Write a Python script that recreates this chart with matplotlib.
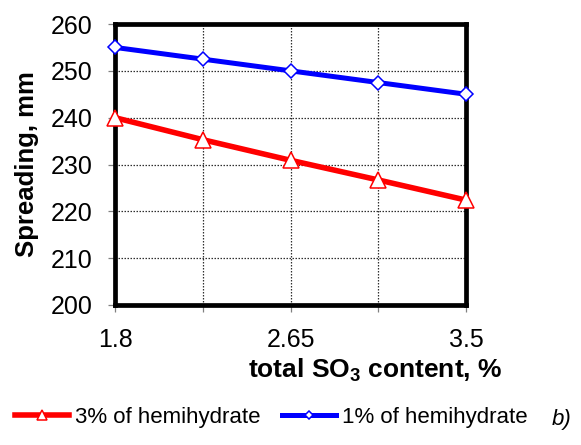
import matplotlib
matplotlib.use("Agg")
import matplotlib.pyplot as plt

plt.rcParams['font.family'] = ['Liberation Sans', 'DejaVu Sans']
plt.rcParams['mathtext.default'] = 'regular'

# Total SO3 content, % (ticks at every measured point, labels on three)
so3 = [1.8, 2.225, 2.65, 3.075, 3.5]
x_tick_labels = ['1.8', '', '2.65', '', '3.5']

# Spreading, mm
spread_3pct = [240, 235.3, 230.9, 226.7, 222.4]
spread_1pct = [255, 252.5, 250, 247.5, 245]

y_ticks = [200, 210, 220, 230, 240, 250, 260]

fig = plt.figure(figsize=(5.81, 4.45), dpi=100)
ax = fig.add_axes([115 / 581, 140 / 445, 351 / 581, 281 / 445])

ax.plot(so3, spread_3pct, color='#ff0000', lw=4.0, marker='^', ms=11,
        mfc='white', mec='#ff0000', mew=1.1, clip_on=False, zorder=5,
        label='3% of hemihydrate')
ax.plot(so3, spread_1pct, color='#0000ff', lw=3.6, marker='D', ms=7,
        mfc='white', mec='#0000ff', mew=1.1, clip_on=False, zorder=5,
        label='1% of hemihydrate')

ax.set_xlim(so3[0], so3[-1])
ax.set_ylim(y_ticks[0], y_ticks[-1])
ax.set_xticks(so3)
ax.set_xticklabels(x_tick_labels)
ax.set_yticks(y_ticks)

ax.grid(True, color='#303030', lw=0.9, linestyle=(0, (1.2, 1.2)), zorder=1)
ax.set_axisbelow(True)

for sp in ax.spines.values():
    sp.set_linewidth(3.4)
    sp.set_color('black')
    sp.set_zorder(4)

ax.tick_params(axis='both', direction='out', length=5, width=0.9,
               color='#808080', labelcolor='black', labelsize=18)
ax.tick_params(axis='y', pad=11)
ax.tick_params(axis='x', pad=11.5)

ax.set_xlabel('total SO$_3$ content, %', fontsize=19, fontweight='bold')
ax.xaxis.set_label_coords(0.741, -0.232)
ax.xaxis.label.set_va('center')

ax.set_ylabel('Spreading, mm', fontsize=18.5, fontweight='bold')
ax.yaxis.set_label_coords(-0.252, 0.5)
ax.yaxis.label.set_va('center')

fig.legend(loc='center', bbox_to_anchor=(271.5 / 581, 28 / 445), ncol=2,
           frameon=False, fontsize=16, handlelength=2.43, handletextpad=0.27,
           columnspacing=0.95, borderpad=0, borderaxespad=0, markerscale=0.6)

fig.text(552 / 581, 20 / 445, 'b)', fontsize=16, style='italic',
         ha='left', va='baseline')

fig.savefig('out.png', dpi=100)
